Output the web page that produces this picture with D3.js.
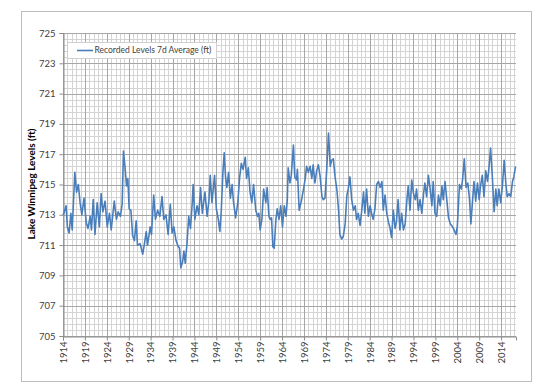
<!DOCTYPE html>
<html>
<head>
<meta charset="utf-8">
<script src="https://cdn.jsdelivr.net/npm/d3@7"></script>
<style>
  body { margin: 0; background: #fff; }
  svg { display: block; }
  text { font-family: Lato, "Liberation Sans", sans-serif; fill: #404040; }
</style>
</head>
<body>
<div id="chart"></div>
<script>
const WIDTH = 550;
const HEIGHT = 389;

// tick labels
const yTicks = [705, 707, 709, 711, 713, 715, 717, 719, 721, 723, 725];
const xTicks = [1914, 1919, 1924, 1929, 1934, 1939, 1944, 1949, 1954, 1959, 1964,
  1969, 1974, 1979, 1984, 1989, 1994, 1999, 2004, 2009, 2014];
const seriesName = "Recorded Levels 7d Average (ft)";

// levels, [decimal year, ft]
const levels1914 = [[1914.0, 713.0], [1914.2, 713.1], [1914.7, 713.6], [1915.0, 712.2], [1915.4, 711.8],
  [1915.8, 713.1], [1916.1, 712.0], [1916.7, 715.8], [1917.1, 714.5], [1917.5, 715.0], [1917.9, 713.8],
  [1918.3, 713.0], [1918.8, 714.1], [1919.3, 712.5], [1919.7, 712.1], [1920.2, 712.9], [1920.5, 712.0],
  [1920.9, 714.0], [1921.3, 711.7], [1921.8, 713.8], [1922.3, 712.2], [1922.7, 714.4], [1923.1, 713.2],
  [1923.6, 713.9], [1924.1, 712.2], [1924.6, 713.1], [1925.0, 712.0]];
const levels1925 = [[1925.7, 713.9], [1926.2, 712.7], [1926.6, 713.2], [1927.1, 712.9], [1927.5, 713.7],
  [1927.8, 717.2], [1928.2, 716.0], [1928.5, 714.9], [1928.8, 715.4], [1929.1, 713.4], [1929.5, 713.3],
  [1929.9, 711.6], [1930.3, 711.3], [1930.7, 712.6], [1931.0, 711.0], [1931.6, 711.1], [1932.2, 710.4],
  [1932.6, 711.1], [1933.0, 711.9], [1933.3, 711.0], [1933.9, 712.2], [1934.2, 711.7], [1934.7, 714.3],
  [1935.1, 712.7], [1935.6, 713.3], [1936.1, 712.9], [1936.6, 714.2]];
const levels1937 = [[1937.0, 712.7], [1937.5, 713.0], [1938.0, 711.7], [1938.5, 713.7], [1938.9, 711.8],
  [1939.3, 712.2], [1939.8, 711.3], [1940.3, 710.9], [1940.6, 710.8], [1940.9, 709.5], [1941.3, 709.9],
  [1941.6, 710.6], [1941.9, 709.8], [1942.3, 711.1], [1942.7, 712.9], [1943.1, 712.1], [1943.5, 713.8],
  [1943.7, 715.0], [1944.1, 712.7], [1944.6, 713.6], [1945.0, 713.0], [1945.4, 714.8], [1945.8, 713.1],
  [1946.4, 714.5], [1946.9, 712.9], [1947.3, 713.9], [1947.6, 715.6], [1948.0, 713.8], [1948.4, 715.0]];
const levels1948 = [[1948.6, 715.6], [1949.0, 713.4], [1949.4, 712.8], [1949.8, 711.9], [1950.1, 713.1],
  [1950.5, 715.8], [1950.8, 717.1], [1951.1, 715.5], [1951.4, 714.8], [1951.8, 715.8], [1952.2, 714.1],
  [1952.6, 715.0], [1952.9, 713.9], [1953.4, 712.8], [1953.9, 713.8], [1954.3, 715.4], [1954.7, 716.4],
  [1955.1, 716.0], [1955.6, 716.8], [1955.9, 715.4], [1956.3, 716.1], [1956.7, 714.5], [1957.1, 713.8],
  [1957.5, 715.0], [1958.0, 713.3], [1958.4, 712.9], [1958.7, 713.1], [1959.0, 712.0], [1959.4, 712.7],
  [1959.8, 714.7]];
const levels1960 = [[1960.3, 713.8], [1960.6, 714.8], [1961.0, 712.9], [1961.3, 712.7], [1961.6, 712.8],
  [1961.9, 710.9], [1962.2, 710.8], [1962.6, 712.7], [1962.9, 713.4], [1963.3, 712.7], [1963.7, 713.6],
  [1964.1, 712.2], [1964.5, 713.6], [1964.9, 712.9], [1965.2, 714.0], [1965.4, 716.1], [1965.8, 715.1],
  [1966.1, 715.6], [1966.6, 717.6], [1966.9, 715.5], [1967.3, 715.3], [1967.5, 716.0], [1967.9, 713.3],
  [1968.4, 713.9], [1968.9, 714.7], [1969.3, 715.4], [1969.6, 716.2], [1970.0, 715.8], [1970.4, 716.2],
  [1970.8, 715.4], [1971.1, 716.3], [1971.5, 715.1]];
const levels1972 = [[1971.9, 715.9], [1972.3, 716.3], [1972.7, 715.5], [1973.1, 714.2], [1973.4, 714.0],
  [1973.8, 714.1], [1974.2, 716.0], [1974.6, 718.4], [1975.0, 716.2], [1975.3, 716.6], [1975.7, 716.7],
  [1976.1, 715.5], [1976.5, 714.7], [1976.9, 713.3], [1977.2, 711.7], [1977.6, 711.4], [1978.0, 711.6],
  [1978.4, 712.4], [1978.8, 714.3], [1979.1, 714.7], [1979.5, 715.5], [1979.9, 714.0], [1980.3, 713.3],
  [1980.7, 713.6], [1981.0, 712.7], [1981.4, 713.1], [1981.8, 712.3], [1982.2, 713.3], [1982.6, 714.5],
  [1982.9, 713.1], [1983.3, 714.7], [1983.7, 712.9]];
const levels1984 = [[1984.1, 713.6], [1984.5, 713.0], [1984.8, 712.7], [1985.2, 713.4], [1985.6, 715.0],
  [1986.0, 715.2], [1986.4, 714.8], [1986.8, 715.2], [1987.1, 713.3], [1987.5, 714.3], [1987.9, 713.1],
  [1988.3, 712.5], [1988.6, 712.2], [1989.0, 711.5], [1989.4, 713.3], [1989.8, 712.1], [1990.1, 712.5],
  [1990.5, 714.0], [1990.9, 712.0], [1991.3, 713.1], [1991.7, 712.0], [1992.1, 712.4], [1992.5, 714.0],
  [1992.8, 714.9], [1993.2, 713.3], [1993.6, 715.3], [1994.0, 714.4], [1994.4, 714.0], [1994.7, 714.7],
  [1995.1, 713.3], [1995.5, 714.0], [1995.9, 713.1]];
const levels1996 = [[1996.3, 714.4], [1996.6, 715.1], [1997.0, 714.2], [1997.4, 715.6], [1997.8, 714.7],
  [1998.2, 713.6], [1998.5, 715.2], [1998.9, 713.1], [1999.3, 712.9], [1999.7, 714.3], [2000.1, 713.6],
  [2000.5, 714.9], [2000.8, 714.0], [2001.2, 715.2], [2001.6, 714.0], [2002.0, 712.8], [2002.4, 712.4],
  [2002.7, 712.3], [2003.1, 712.1], [2003.7, 711.7], [2004.0, 712.2], [2004.5, 715.0], [2004.9, 714.7],
  [2005.2, 715.3], [2005.6, 716.7], [2006.0, 714.8], [2006.4, 715.1], [2006.8, 714.0]];
const levels2007 = [[2007.1, 712.4], [2007.5, 714.0], [2007.8, 715.2], [2008.2, 713.9], [2008.6, 715.1],
  [2009.0, 714.0], [2009.3, 714.9], [2009.7, 715.6], [2010.1, 714.2], [2010.5, 715.9], [2010.9, 715.2],
  [2011.2, 716.0], [2011.6, 717.4], [2012.0, 715.5], [2012.4, 713.2], [2012.8, 714.7], [2013.1, 713.6],
  [2013.5, 714.7], [2013.9, 713.8], [2014.3, 714.9], [2014.7, 716.6], [2015.1, 715.0], [2015.4, 714.2],
  [2015.8, 714.4], [2016.2, 714.2], [2016.6, 715.2], [2016.9, 715.5], [2017.3, 716.2]];

const levels = [].concat(levels1914, levels1925, levels1937, levels1948, levels1960,
  levels1972, levels1984, levels1996, levels2007);

const svg = d3.select("#chart").append("svg")
  .attr("width", WIDTH)
  .attr("height", HEIGHT);

// chart frame
svg.append("rect")
  .attr("x", 21.5).attr("y", 11.5)
  .attr("width", 510).attr("height", 370)
  .attr("fill", "#fff")
  .attr("stroke", "#bcbcbc");

const x = d3.scaleLinear().domain([1914, 2017.4]).range([63, 516]);
const y = d3.scaleLinear().domain([705, 725]).range([336, 33]);

const grid = svg.append("g");

// minor grid
d3.range(705, 725.01, 0.4).forEach(v => {
  grid.append("line")
    .attr("x1", x.range()[0]).attr("x2", x.range()[1])
    .attr("y1", Math.round(y(v)) + 0.5).attr("y2", Math.round(y(v)) + 0.5)
    .attr("stroke", "#d4d4d4");
});
d3.range(1914, 2018).forEach(t => {
  grid.append("line")
    .attr("x1", Math.round(x(t)) + 0.5).attr("x2", Math.round(x(t)) + 0.5)
    .attr("y1", y.range()[1]).attr("y2", y.range()[0])
    .attr("stroke", "#d4d4d4");
});

// major grid
yTicks.forEach(v => {
  grid.append("line")
    .attr("x1", x.range()[0]).attr("x2", x.range()[1])
    .attr("y1", Math.round(y(v)) + 0.5).attr("y2", Math.round(y(v)) + 0.5)
    .attr("stroke", "#a6a6a6");
});
xTicks.forEach(t => {
  grid.append("line")
    .attr("x1", Math.round(x(t)) + 0.5).attr("x2", Math.round(x(t)) + 0.5)
    .attr("y1", y.range()[1]).attr("y2", y.range()[0])
    .attr("stroke", "#a6a6a6");
});

// axes
const yAxis = d3.axisLeft(y).tickValues(yTicks).tickSize(4).tickPadding(4).tickFormat(d3.format("d"));
const yg = svg.append("g").attr("transform", "translate(" + 63.5 + ",0)").call(yAxis);
yg.select(".domain").attr("stroke", "#8c8c8c");
yg.selectAll(".tick line").attr("stroke", "#8c8c8c");
yg.selectAll("text").style("font-size", "9.5px").attr("fill", "#404040");

const xAxis = d3.axisBottom(x).tickValues(xTicks).tickSize(4).tickFormat(d3.format("d"));
const xg = svg.append("g").attr("transform", "translate(0," + 336.5 + ")").call(xAxis);
xg.select(".domain").attr("stroke", "#8c8c8c");
xg.selectAll(".tick line").attr("stroke", "#8c8c8c");
xg.selectAll("text")
  .style("font-size", "9.5px")
  .attr("fill", "#404040")
  .attr("transform", "rotate(-90)")
  .attr("text-anchor", "end")
  .attr("x", -5)
  .attr("y", 0)
  .attr("dy", "0.35em");

// axis title
svg.append("text")
  .attr("transform", "translate(31,184) rotate(-90)")
  .attr("text-anchor", "middle")
  .attr("dy", "0.35em")
  .style("font-size", "10px")
  .style("font-weight", "bold")
  .style("fill", "#000")
  .text("Lake Winnipeg Levels (ft)");

// series
const line = d3.line().x(d => x(d[0])).y(d => y(d[1]));
svg.append("path")
  .datum(levels)
  .attr("d", line)
  .attr("fill", "none")
  .attr("stroke", "#4a7ebb")
  .attr("stroke-width", 1.6)
  .attr("stroke-linejoin", "round");

// legend
const legend = svg.append("g");
legend.append("rect")
  .attr("x", 67.5).attr("y", 42.5)
  .attr("width", 149).attr("height", 16)
  .attr("fill", "#fff")
  .attr("stroke", "#d0d0d0");
legend.append("line")
  .attr("x1", 77).attr("x2", 93)
  .attr("y1", 50.5).attr("y2", 50.5)
  .attr("stroke", "#4a7ebb").attr("stroke-width", 1.6);
legend.append("text")
  .attr("x", 94.5).attr("y", 50.5)
  .attr("dy", "0.35em")
  .style("font-size", "8.5px")
  .text(seriesName);
</script>
</body>
</html>
